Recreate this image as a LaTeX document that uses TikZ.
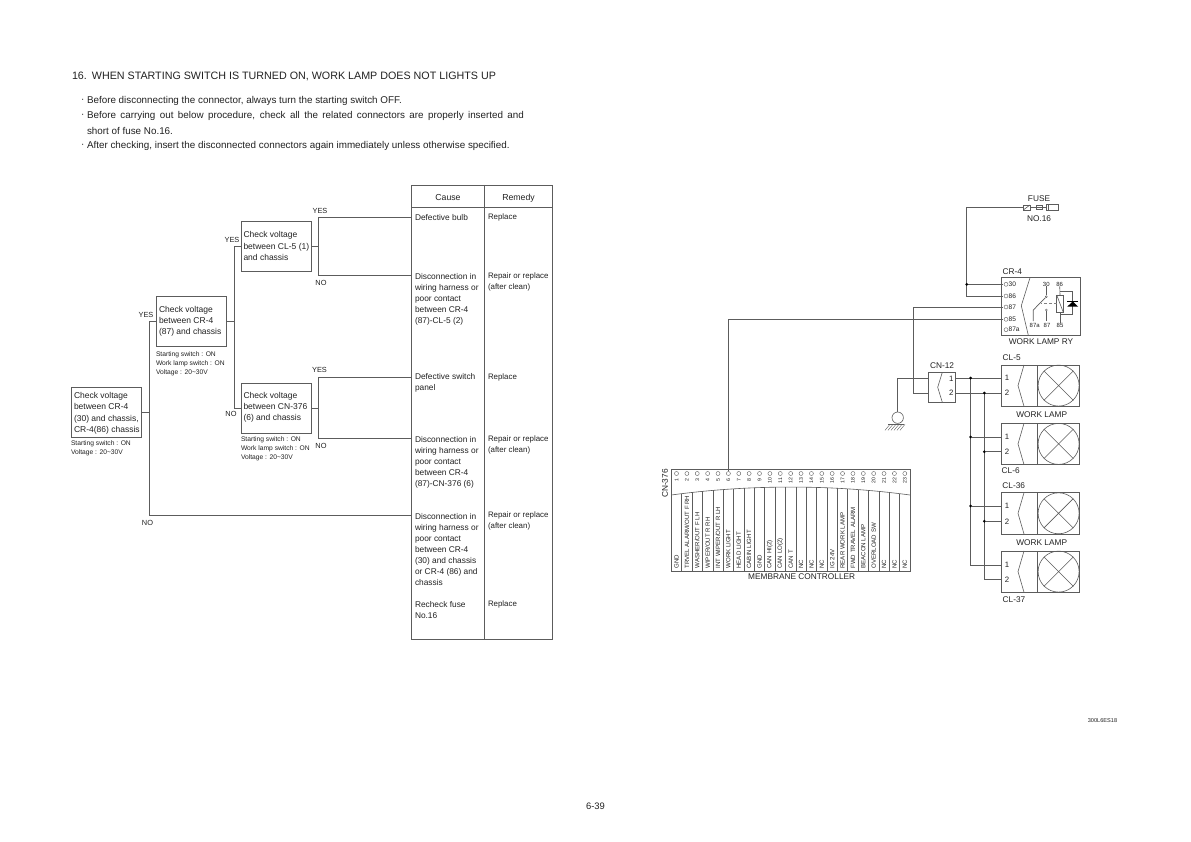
\documentclass[tikz,border=0pt]{standalone}
\usepackage{fontspec}
\setmainfont{Liberation Sans}
\definecolor{ink}{HTML}{222222}
\definecolor{wire}{HTML}{5c5c5c}
\newcommand{\fsz}[2]{\fontsize{#1}{#2}\selectfont}
\tikzset{
  base/.style={inner sep=0pt,outer sep=0pt,text=ink},
  body/.style={base,anchor=west,align=left,font=\fsz{9.85}{14.5}},
  head/.style={base,anchor=west,font=\fsz{10.72}{12}},
  chk/.style={draw=wire,line width=.7pt,minimum width=70.5pt,minimum height=50pt,inner sep=0pt,outer sep=0pt},
  chktxt/.style={base,anchor=west,align=left,font=\fsz{8.5}{11.1}},
  cell/.style={base,anchor=west,align=left,font=\fsz{8.35}{11.05}},
  rem/.style={base,anchor=west,align=left,font=\fsz{7.9}{11.05}},
  note/.style={base,anchor=west,align=left,font=\fsz{6.7}{9}},
  yn/.style={base,font=\fsz{7.4}{9}},
  wl/.style={draw=wire,line width=.7pt},
  ln/.style={draw=wire,line width=.6pt},
  tl/.style={base,font=\fsz{8.3}{10}},
  pintxt/.style={base,font=\fsz{7.8}{9}},
  tiny/.style={base,font=\fsz{6.1}{7}},
  dot/.style={circle,fill=black,inner sep=0pt,minimum size=3pt},
  hole/.style={circle,draw=wire,line width=.4pt,inner sep=0pt,minimum size=4pt},
}
% lamp unit: name, top y
\newcommand{\lampunit}[4]{%
  \node[ln,rectangle,minimum width=77.6pt,minimum height=41.3pt,inner sep=0pt,outer sep=0pt,anchor=north west] (#1) at (1001.7,#2) {};
  \draw[ln] (1037.3,#2) -- ++(0,41.3);
  \draw[ln] (1024,#2) -- ++(-6,20.6) -- ++(6,20.7);
  \node[ln,circle,minimum size=41pt,inner sep=0pt] (#1c) at (1058.6,#2+20.6) {};
  \draw[ln] (#1c.45) -- (#1c.225) (#1c.135) -- (#1c.315);
  \coordinate (#1p1) at (1001.7,#3);
  \coordinate (#1p2) at (1001.7,#4);
  \node[pintxt] (#1n1) at (1007,#3) {1};
  \node[pintxt] (#1n2) at (1007,#4) {2};
}
\begin{document}
\begin{tikzpicture}[x=1pt,y=-1pt]
\useasboundingbox (0,0) rectangle (1191,842);
\fill[white] (0,0) rectangle (1191,842);

% heading
\node[head] (title) at (72,76.5) {16.\hspace{5pt}WHEN STARTING SWITCH IS TURNED ON, WORK LAMP DOES NOT LIGHTS UP};
\node[body] (b1m) at (81,100.5) {·};
\node[body] (b1) at (87,100.5) {Before disconnecting the connector, always turn the starting switch OFF.};
\node[body] (b2m) at (81,116) {·};
\node[body] (b2) at (87,116) {\makebox[437pt][s]{Before carrying out below procedure, check all the related connectors are properly inserted and}};
\node[body] (b2b) at (87,131) {short of fuse No.16.};
\node[body] (b3m) at (81,146) {·};
\node[body] (b3) at (87,146) {After checking, insert the disconnected connectors again immediately unless otherwise specified.};

% flow boxes
\node[chk] (k1) at (106.5,412.5) {};
\node[chk] (k2) at (191.5,321) {};
\node[chk] (k3) at (276.5,246) {};
\node[chk] (k4) at (276.5,408) {};
\node[chktxt] (k1t) at (74,413.3) {Check voltage\\between CR-4\\(30) and chassis,\\CR-4(86) chassis};
\node[chktxt] (k2t) at (159,321.5) {Check voltage\\between CR-4\\(87) and chassis};
\node[chktxt] (k3t) at (243.5,246) {Check voltage\\between CL-5 (1)\\and chassis};
\node[chktxt] (k4t) at (243.5,407.5) {Check voltage\\between CN-376\\(6) and chassis};
\node[note] (n1) at (71,448.3) {Starting switch : ON\\Voltage : 20\textasciitilde30V};
\node[note] (n2) at (156,363.3) {Starting switch : ON\\Work lamp switch : ON\\Voltage : 20\textasciitilde30V};
\node[note] (n4) at (241,449) {Starting switch : ON\\Work lamp switch : ON\\Voltage : 20\textasciitilde30V};

% table
\node[draw=wire,line width=.9pt,minimum width=141pt,minimum height=454pt,inner sep=0pt,outer sep=0pt,anchor=north west] (tbl) at (411,185) {};
\draw[wl] (484.7,185) -- (484.7,639);
\draw[wl] (411,207) -- (552,207);
\node[base,font=\fsz{8.7}{11}] (hc) at (448,198) {Cause};
\node[base,font=\fsz{8.7}{11}] (hr) at (518.5,198) {Remedy};
\node[cell] (c1) at (415,217.5) {Defective bulb};
\node[rem] (r1) at (488,217.5) {Replace};
\node[cell] (c2) at (415,299) {Disconnection in\\wiring harness or\\poor contact\\between CR-4\\(87)-CL-5 (2)};
\node[rem] (r2) at (488,282) {Repair or replace\\(after clean)};
\node[cell] (c3) at (415,383) {Defective switch\\panel};
\node[rem] (r3) at (488,377) {Replace};
\node[cell] (c4) at (415,462) {Disconnection in\\wiring harness or\\poor contact\\between CR-4\\(87)-CN-376 (6)};
\node[rem] (r4) at (488,444.5) {Repair or replace\\(after clean)};
\node[cell] (c5) at (415,549.7) {Disconnection in\\wiring harness or\\poor contact\\between CR-4\\(30) and chassis\\or CR-4 (86) and\\chassis};
\node[rem] (r5) at (488,521) {Repair or replace\\(after clean)};
\node[cell] (c6) at (415,610) {Recheck fuse\\No.16};
\node[rem] (r6) at (488,604) {Replace};

% flow connectors
\coordinate (t1) at (149,412.5);
\coordinate (t2) at (234,321);
\coordinate (t3) at (318.7,246);
\coordinate (t4) at (318.7,408);
\coordinate (e1) at (411,217);
\coordinate (e2) at (411,275);
\coordinate (e3) at (411,377);
\coordinate (e4) at (411,438);
\coordinate (e5) at (411,515);
\draw[wl] (k1.east) -- (t1);
\draw[wl] (k2.west) -| (t1);
\draw[wl] (t1) |- (e5);
\draw[wl] (k2.east) -- (t2);
\draw[wl] (k3.west) -| (t2);
\draw[wl] (k4.west) -| (t2);
\draw[wl] (k3.east) -- (t3);
\draw[wl] (e1) -| (t3) |- (e2);
\draw[wl] (k4.east) -- (t4);
\draw[wl] (e3) -| (t4) |- (e4);
\node[yn] (y1) at (146,315) {YES};
\node[yn] (y2) at (232,240) {YES};
\node[yn] (y3) at (320,211) {YES};
\node[yn] (y4) at (319.5,369.7) {YES};
\node[yn] (x1) at (147.5,522.5) {NO};
\node[yn] (x2) at (231,414) {NO};
\node[yn] (x3) at (321,283) {NO};
\node[yn] (x4) at (321,446) {NO};

% membrane controller
\node[ln,rectangle,minimum width=238.7pt,minimum height=102.4pt,inner sep=0pt,outer sep=0pt,anchor=north west] (mc) at (671.3,469.3) {};
\draw[ln] (671.3,495) .. controls (750,484.4) and (831,484.4) .. (910,495);
\foreach \i/\lab in {1/GND,2/TRVEL ALARM\slash OUT F RH,3/WASHER\slash OUT F LH,4/WIPER\slash OUT R RH,5/INT WIPER\slash OUT R LH,6/WORK LIGHT,7/HEAD LIGHT,8/CABIN LIGHT,9/GND,10/CAN HI(2),11/CAN LO(2),12/CAN T,13/NC,14/NC,15/NC,16/IG 24V,17/REAR WORK LAMP,18/FWD TRAVEL ALARM,19/BEACON LAMP,20/OVERLOAD SW,21/NC,22/NC,23/NC}{
  \pgfmathsetmacro{\xc}{671.3+(\i-.5)*10.378}
  \node[hole] (h\i) at (\xc,473.5) {};
  \node[tiny,rotate=90,font=\fsz{5.2}{6}] (num\i) at (\xc,480.5) {\i};
  \node[tiny,rotate=90,anchor=west] (lab\i) at (\xc,568.5) {\lab};
  \ifnum\i<23
    \pgfmathsetmacro{\xb}{671.3+\i*10.378}
    \pgfmathsetmacro{\yb}{495-8*(1-((\xb-790.65)/119.35)^2)}
    \draw[ln] (\xb,\yb) -- (\xb,571.7);
  \fi
}
\node[tl,rotate=90] (cn376) at (665,483.5) {CN-376};
\node[tl] (mclab) at (801.7,576.7) {MEMBRANE CONTROLLER};

% fuse
\node[ln,rectangle,minimum width=6.6pt,minimum height=5pt,inner sep=0pt,outer sep=0pt] (fa) at (1026.6,207.5) {};
\node[ln,rectangle,minimum width=6.2pt,minimum height=4.4pt,inner sep=0pt,outer sep=0pt] (fb) at (1039,207.5) {};
\node[ln,rectangle,minimum width=12.6pt,minimum height=6.6pt,inner sep=0pt,outer sep=0pt] (fc) at (1052.4,207.5) {};
\draw[ln] (fa.south west) -- (fa.north east);
\draw[ln] (fa.east) -- (fb.west) (fb.west) -- (fb.east) (fb.east) -- (fc.west);
\draw[ln] (1048,204.2) -- (1048,210.8);
\node[tl] (fl) at (1039,198.7) {FUSE};
\node[tl] (fn) at (1039,218.7) {NO.16};

% CR-4 relay
\node[ln,rectangle,minimum width=78.6pt,minimum height=57.6pt,inner sep=0pt,outer sep=0pt,anchor=north west] (cr) at (1001.7,277.7) {};
\draw[ln] (1030,277.7) -- (1021.3,305.7) -- (1028.3,335.3);
\node[tl] (crl) at (1012.3,271.7) {CR-4};
\node[tl] (crw) at (1041,341.7) {WORK LAMP RY};
\foreach \nm/\yy in {30/284.3,86/296,87/307,85/319.3,87a/329.7}{
  \node[hole] (p\nm) at (1006,\yy) {};
  \node[base,anchor=west,font=\fsz{6.6}{8}] (pl\nm) at (1008.6,\yy) {\nm};
}
\node[base,font=\fsz{6}{7}] (r30) at (1046.3,284.3) {30};
\node[base,font=\fsz{6}{7}] (r86) at (1059.7,284.3) {86};
\node[base,font=\fsz{6}{7}] (r87a) at (1034.7,325.3) {87a};
\node[base,font=\fsz{6}{7}] (r87) at (1047,325.3) {87};
\node[base,font=\fsz{6}{7}] (r85) at (1060,325.3) {85};
\node[hole,minimum size=2pt] (s1) at (1046.3,296.7) {};
\node[hole,minimum size=2pt] (s2) at (1046.3,310) {};
\coordinate (sa) at (1033.3,310);
\coordinate (sb) at (1033.3,321);
\coordinate (sc) at (1046.3,321);
\draw[ln] (r30.south) -- (s1);
\draw[wl] (s1) -- (sa) -- (sb);
\draw[ln] (s2) -- (sc);
\node[ln,rectangle,minimum width=6.6pt,minimum height=17.3pt,inner sep=0pt,outer sep=0pt] (coil) at (1060,303.7) {};
\draw[ln] (coil.north west) -- (coil.south east);
\draw[ln] (r86.south) -- (coil.north);
\draw[ln] (coil.south) -- (r85.north);
\draw[ln,densely dashed,draw=gray] (coil.west) -- (1041,303.7);
\draw[ln] (1060,291.7) -| (1072.7,314) -| (1060,315);
\fill[black] (1072.7,301.5) -- (1078,306.5) -- (1067.4,306.5) -- cycle;
\draw[ln,draw=black] (1067.4,301.5) -- (1078,301.5);

% CN-12
\node[ln,rectangle,minimum width=27pt,minimum height=30pt,inner sep=0pt,outer sep=0pt,anchor=north west] (cn) at (928.7,372.3) {};
\draw[ln] (942.3,372.3) -- (937.7,387.3) -- (942.3,402.3);
\node[pintxt] (cn1) at (951.3,379) {1};
\node[pintxt] (cn2) at (951.3,393) {2};
\node[tl] (cnl) at (942,365.7) {CN-12};
\coordinate (cnw1) at (928.7,378);
\coordinate (cnw2) at (928.7,393);
\coordinate (cne1) at (955.7,378);
\coordinate (cne2) at (955.7,393);

% lamps
\lampunit{cla}{365}{378}{393}
\lampunit{clb}{423.3}{437}{451.7}
\lampunit{clc}{492.7}{506}{521.3}
\lampunit{cld}{551}{565}{579.3}
\node[tl] (l5) at (1011.7,357.7) {CL-5};
\node[tl] (wa) at (1041.7,414.7) {WORK LAMP};
\node[tl] (l6) at (1010.7,470.7) {CL-6};
\node[tl] (l36) at (1013.7,485.7) {CL-36};
\node[tl] (wb) at (1041.7,542.3) {WORK LAMP};
\node[tl] (l37) at (1014,600) {CL-37};

% ground
\node[ln,circle,minimum size=11.4pt,inner sep=0pt] (gnd) at (897.7,417.7) {};
\draw[wl] (cnw1) -| (gnd.north);
\draw[ln] (888,424.3) -- (904,424.3);
\foreach \hx in {890,893,896,899,902,905}{\draw[line width=.4pt,draw=wire] (\hx,424.3) -- ++(-5,6);}

% wires
\coordinate (jc) at (966.7,284.3);
\coordinate (fw) at (966.7,207.5);
\coordinate (ra) at (1003,296);
\coordinate (rb) at (1003,284.3);
\coordinate (rc) at (1003,307);
\coordinate (rd) at (1003,319.3);
\coordinate (vt) at (913.7,307);
\draw[wl] (fa.west) -- (fw) |- (ra);
\draw[wl] (jc) -- (rb);
\draw[wl] (vt) -- (rc);
\draw[wl] (vt) |- (cnw2);
\draw[wl] (h6.north) |- (rd);
\node[dot] (d0) at (jc) {};
\draw[wl] (cne1) -- (clap1);
\draw[wl] (cne2) -- (clap2);
\coordinate (va) at (970.7,378);
\coordinate (vb) at (984.3,393);
\coordinate (vc) at (970.7,565);
\coordinate (vd) at (984.3,579.3);
\draw[wl] (va) -- (vc) -- (cldp1);
\draw[wl] (vb) -- (vd) -- (cldp2);
\node[dot] (d1) at (va) {};
\node[dot] (d2) at (vb) {};
\node[dot] (d3) at (970.7,437) {};
\node[dot] (d4) at (984.3,451.7) {};
\node[dot] (d5) at (970.7,506) {};
\node[dot] (d6) at (984.3,521.3) {};
\draw[wl] (d3) -- (clbp1);
\draw[wl] (d4) -- (clbp2);
\draw[wl] (d5) -- (clcp1);
\draw[wl] (d6) -- (clcp2);

% footer
\node[base,font=\fsz{5.6}{7}] (code) at (1102.5,721) {300L6ES18};
\node[base,font=\fsz{9.4}{11}] (pg) at (595.5,806) {6-39};
\end{tikzpicture}
\end{document}
